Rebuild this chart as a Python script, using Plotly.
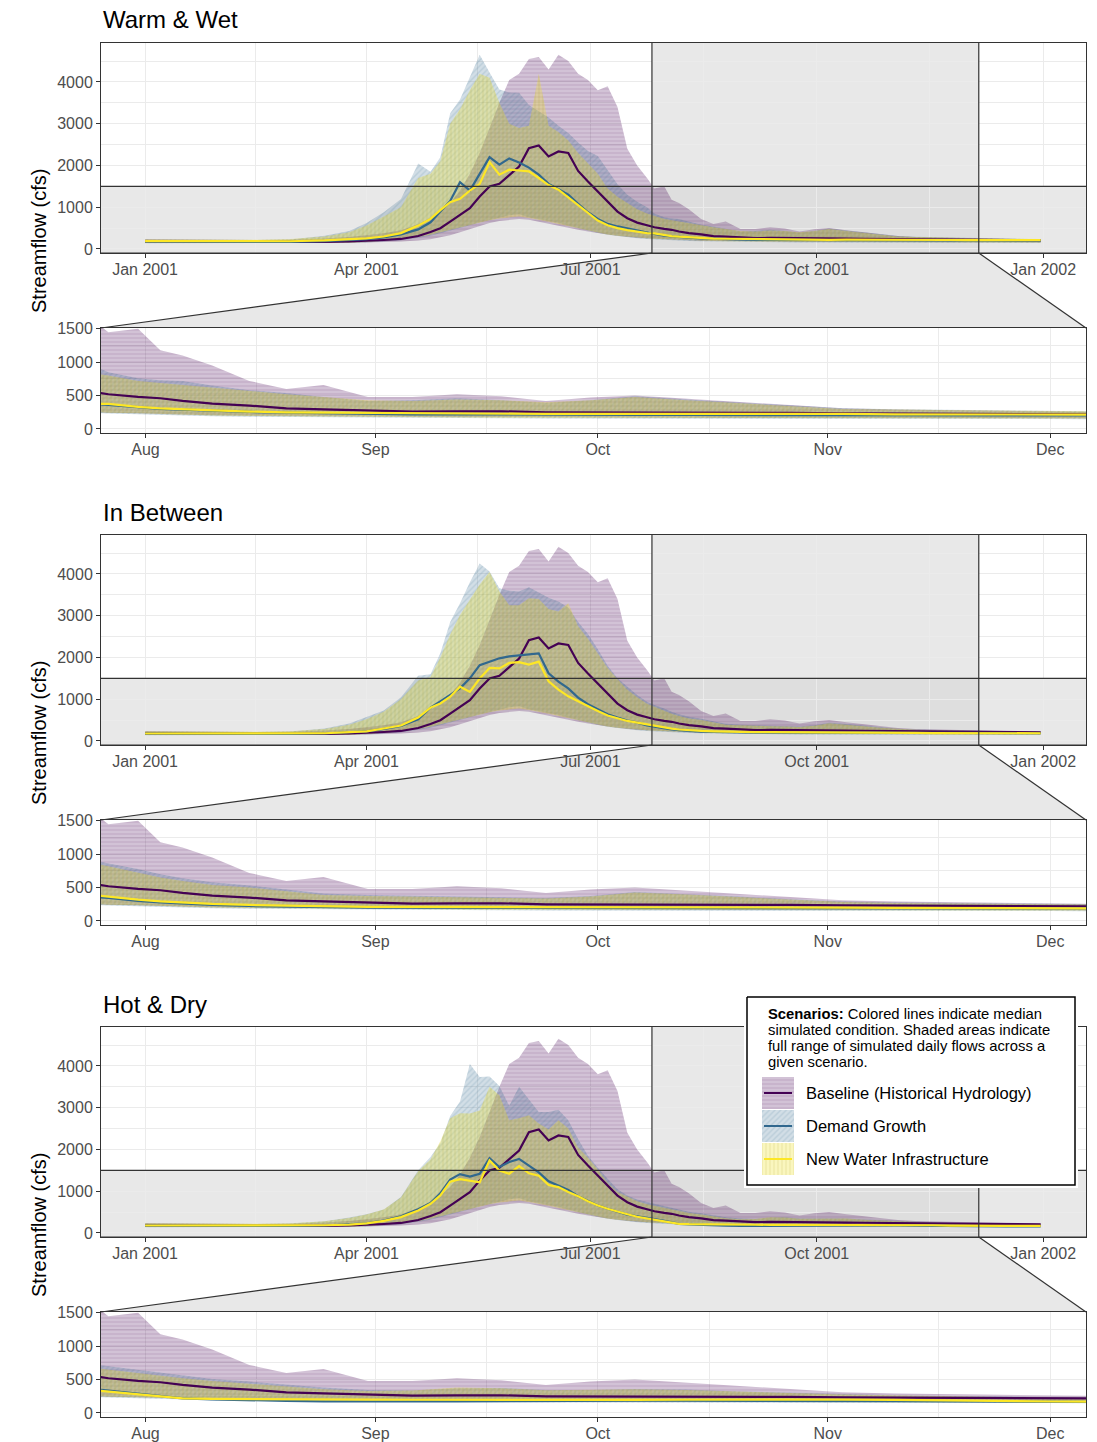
import pandas as pd
import plotly.graph_objects as go

# ---------------- data ----------------
dates = ["2001-01-01", "2001-01-15", "2001-02-01", "2001-02-15", "2001-03-01", "2001-03-15",
         "2001-03-25", "2001-04-01", "2001-04-08", "2001-04-15", "2001-04-22", "2001-04-27",
         "2001-05-01", "2001-05-05", "2001-05-09", "2001-05-13", "2001-05-17", "2001-05-21",
         "2001-05-25", "2001-05-29", "2001-06-02", "2001-06-06", "2001-06-10", "2001-06-14",
         "2001-06-18", "2001-06-22", "2001-06-26", "2001-06-30", "2001-07-04", "2001-07-08",
         "2001-07-12", "2001-07-16", "2001-07-20", "2001-07-24", "2001-07-27", "2001-07-31",
         "2001-08-03", "2001-08-06", "2001-08-10", "2001-08-15", "2001-08-20", "2001-08-25",
         "2001-08-31", "2001-09-06", "2001-09-12", "2001-09-18", "2001-09-24", "2001-09-30",
         "2001-10-06", "2001-10-13", "2001-10-20", "2001-10-27", "2001-11-03", "2001-11-10",
         "2001-11-17", "2001-11-24", "2001-12-01", "2001-12-08", "2001-12-17", "2001-12-31"]

# Baseline (historical hydrology) - identical in every climate panel
baseline_min = [150, 148, 145, 142, 140, 142, 148, 155, 165, 180, 205, 235, 280, 330, 400, 470, 550, 620, 670, 700,
                720, 700, 650, 600, 560, 510, 460, 420, 380, 350, 320, 290, 270, 255, 245, 235, 225, 215, 205, 200,
                195, 190, 185, 180, 178, 178, 175, 175, 172, 172, 170, 170, 168, 168, 165, 165, 162, 160, 160, 158]
baseline_med = [180, 175, 170, 165, 165, 170, 180, 190, 215, 240, 312, 408, 496, 656, 816, 976, 1256, 1496, 1560, 1776,
                1976, 2416, 2480, 2216, 2336, 2300, 1870, 1616, 1376, 1112, 896, 736, 632, 568, 520, 480, 460, 420, 380, 350,
                310, 295, 275, 260, 265, 265, 250, 250, 250, 250, 245, 240, 235, 230, 225, 220, 215, 212, 210, 205]
baseline_max = [240, 230, 220, 215, 220, 250, 290, 330, 380, 450, 600, 750, 900, 1100, 1400, 1800, 2300, 2900, 3500, 4050,
                4200, 4550, 4600, 4300, 4650, 4500, 4200, 4050, 3800, 3900, 3400, 2400, 2000, 1700, 1450, 1500, 1180, 1100, 950, 720,
                600, 660, 480, 480, 520, 490, 420, 470, 500, 450, 400, 360, 310, 290, 280, 270, 260, 240, 240, 230]

# lower envelopes of the two alternative scenarios (look the same in all panels)
demand_min = [140, 138, 135, 132, 132, 135, 142, 155, 175, 210, 270, 320, 380, 440, 510, 570, 640, 690, 750, 810,
              830, 760, 720, 670, 620, 560, 490, 440, 390, 340, 310, 280, 260, 240, 230, 220, 210, 200, 190, 185,
              180, 175, 170, 165, 162, 160, 158, 158, 156, 156, 155, 155, 152, 150, 150, 148, 148, 146, 146, 145]
infra_min = [150, 148, 145, 142, 142, 145, 152, 165, 190, 225, 290, 340, 400, 460, 520, 580, 640, 690, 730, 760,
             780, 740, 700, 650, 600, 550, 485, 440, 395, 350, 320, 295, 275, 255, 245, 235, 222, 212, 202, 195,
             190, 185, 180, 175, 172, 170, 168, 168, 166, 165, 165, 164, 162, 160, 160, 158, 157, 156, 155, 155]

# Warm & Wet
ww_demand_med = [175, 172, 170, 168, 170, 185, 210, 235, 280, 350, 470, 640, 900, 1150, 1600, 1400, 1800, 2200, 2020, 2170,
                 2070, 1950, 1780, 1560, 1430, 1300, 1080, 880, 720, 600, 540, 490, 430, 380, 360, 320, 300, 290, 270, 255,
                 245, 235, 225, 220, 220, 215, 215, 210, 210, 210, 210, 210, 210, 205, 205, 200, 200, 200, 200, 200]
ww_demand_max = [230, 225, 220, 215, 230, 320, 430, 620, 880, 1200, 2050, 1850, 2200, 3250, 3580, 4100, 4650, 4230, 3820, 3750,
                 3740, 3450, 3300, 3150, 2950, 2780, 2550, 2350, 2230, 1900, 1550, 1300, 1130, 1000, 850, 760, 730, 720, 650, 580,
                 540, 480, 420, 430, 460, 430, 390, 430, 490, 440, 400, 360, 310, 295, 285, 275, 260, 250, 245, 235]
ww_infra_med = [190, 185, 180, 178, 185, 205, 230, 255, 300, 380, 560, 720, 930, 1120, 1200, 1400, 1560, 2080, 1780, 1900,
                1880, 1860, 1700, 1530, 1420, 1230, 1050, 850, 680, 570, 500, 450, 410, 380, 375, 330, 310, 295, 280, 260,
                250, 245, 240, 235, 230, 230, 225, 225, 220, 225, 225, 230, 225, 220, 215, 215, 210, 210, 210, 210]
ww_infra_max = [235, 230, 225, 220, 240, 300, 400, 560, 780, 1000, 1700, 1800, 2100, 3000, 3350, 3800, 4200, 4100, 3500, 3000,
                2900, 2950, 4200, 2950, 2800, 2600, 2300, 2050, 1800, 1450, 1250, 1100, 950, 850, 800, 720, 690, 660, 620, 560,
                520, 480, 430, 420, 440, 430, 400, 430, 480, 430, 390, 350, 300, 290, 280, 270, 260, 250, 245, 240]

# In Between
ib_demand_med = [175, 172, 170, 168, 170, 180, 205, 232, 290, 360, 520, 800, 950, 1110, 1260, 1500, 1816, 1900, 1980, 2025,
                 2055, 2080, 2100, 1620, 1420, 1260, 1040, 880, 760, 640, 560, 490, 440, 375, 345, 300, 280, 260, 240, 225,
                 215, 205, 200, 198, 198, 200, 200, 200, 200, 200, 200, 200, 198, 195, 192, 190, 188, 186, 185, 185]
ib_demand_max = [225, 220, 215, 215, 225, 300, 420, 570, 730, 1050, 1560, 1600, 2100, 2850, 3300, 3800, 4250, 4060, 3660, 3600,
                 3580, 3680, 3550, 3430, 3340, 3200, 2850, 2560, 2200, 1800, 1500, 1300, 1100, 940, 860, 780, 700, 640, 580, 530,
                 470, 410, 390, 375, 365, 355, 345, 375, 435, 405, 365, 325, 292, 277, 267, 257, 247, 240, 235, 230]
ib_infra_med = [180, 178, 175, 172, 175, 185, 210, 232, 300, 370, 560, 800, 900, 1060, 1300, 1176, 1496, 1750, 1740, 1870,
                1890, 1830, 1900, 1430, 1230, 1070, 950, 830, 720, 610, 540, 480, 440, 395, 360, 320, 295, 275, 255, 240,
                230, 220, 212, 210, 210, 210, 210, 210, 210, 210, 208, 205, 200, 195, 190, 188, 186, 185, 185, 185]
ib_infra_max = [235, 230, 225, 220, 235, 290, 390, 520, 700, 1000, 1450, 1530, 2000, 2550, 3020, 3400, 3750, 4050, 3580, 3250,
                3250, 3420, 3400, 3160, 3100, 3300, 2750, 2450, 2100, 1750, 1480, 1230, 1050, 890, 820, 720, 650, 600, 540, 500,
                440, 390, 375, 360, 355, 345, 335, 365, 425, 395, 355, 315, 285, 270, 260, 250, 240, 235, 230, 225]

# Hot & Dry
hd_demand_med = [175, 172, 170, 168, 170, 180, 200, 232, 300, 400, 570, 720, 950, 1280, 1410, 1350, 1416, 1790, 1580, 1700,
                 1776, 1620, 1450, 1240, 1140, 1030, 880, 760, 660, 580, 510, 440, 400, 370, 335, 290, 250, 220, 205, 190,
                 180, 175, 170, 172, 175, 180, 182, 185, 185, 185, 185, 185, 182, 178, 172, 168, 165, 162, 160, 160]
hd_demand_max = [225, 220, 215, 215, 225, 280, 370, 450, 560, 860, 1500, 1820, 2150, 2800, 3150, 4050, 3736, 3750, 3520, 3050,
                 3500, 3200, 2900, 2900, 2950, 2700, 2250, 1850, 1560, 1300, 1050, 900, 800, 740, 700, 650, 600, 560, 510, 470,
                 420, 380, 345, 335, 370, 375, 345, 345, 360, 350, 322, 302, 282, 266, 255, 242, 232, 226, 222, 216]
hd_infra_med = [180, 178, 175, 172, 175, 185, 200, 232, 290, 380, 540, 700, 900, 1230, 1290, 1256, 1216, 1736, 1496, 1420,
                1600, 1430, 1370, 1150, 1100, 980, 880, 760, 660, 580, 510, 450, 390, 350, 320, 275, 245, 220, 210, 205,
                200, 200, 200, 198, 196, 195, 195, 195, 196, 198, 200, 200, 200, 195, 185, 178, 172, 170, 170, 170]
hd_infra_max = [235, 230, 225, 220, 235, 280, 360, 440, 560, 850, 1480, 1760, 2200, 2750, 2870, 2860, 2936, 3500, 3300, 2700,
                2750, 2820, 2620, 2480, 2700, 2500, 2050, 1800, 1520, 1200, 980, 860, 760, 690, 650, 600, 560, 520, 480, 440,
                395, 355, 330, 335, 380, 370, 340, 345, 355, 345, 318, 298, 278, 262, 250, 238, 228, 222, 218, 212]

panel_titles = ["Warm & Wet", "In Between", "Hot & Dry"]
scenario_names = ["Baseline (Historical Hydrology)", "Demand Growth", "New Water Infrastructure"]
main_tickvals = ["2001-01-01", "2001-04-01", "2001-07-01", "2001-10-01", "2002-01-01"]
main_ticktext = ["Jan 2001", "Apr 2001", "Jul 2001", "Oct 2001", "Jan 2002"]
main_minor = ["2000-11-16", "2001-02-15", "2001-05-16", "2001-08-16", "2001-11-16", "2002-02-15"]
zoom_tickvals = ["2001-08-01", "2001-09-01", "2001-10-01", "2001-11-01", "2001-12-01"]
zoom_ticktext = ["Aug", "Sep", "Oct", "Nov", "Dec"]
zoom_minor = ["2001-07-16", "2001-08-16", "2001-09-16", "2001-10-16", "2001-11-16"]
main_ytick = [0, 1000, 2000, 3000, 4000]
main_yminor = [500, 1500, 2500, 3500, 4500]
zoom_ytick = [0, 500, 1000, 1500]
zoom_yminor = [250, 750, 1250]

panels = [
    dict(demand=(demand_min, ww_demand_med, ww_demand_max), infra=(infra_min, ww_infra_med, ww_infra_max)),
    dict(demand=(demand_min, ib_demand_med, ib_demand_max), infra=(infra_min, ib_infra_med, ib_infra_max)),
    dict(demand=(demand_min, hd_demand_med, hd_demand_max), infra=(infra_min, hd_infra_med, hd_infra_max)),
]
baseline = (baseline_min, baseline_med, baseline_max)

# ---------------- styling ----------------
W, H = 1097, 1442
FONT = "Liberation Sans, Arial, sans-serif"
C_BASE, C_DEM, C_INF = "#440154", "#31688E", "#FDE725"
FILL = {
    "base": dict(bg="rgba(68,1,84,0.24)", fg="rgba(68,1,84,0.22)", shape="-"),
    "dem": dict(bg="rgba(49,104,142,0.22)", fg="rgba(49,104,142,0.30)", shape="/"),
    "inf": dict(bg="rgba(240,225,40,0.30)", fg="rgba(150,140,20,0.25)", shape="|"),
}
GRID = "#ebebeb"
BORDER = "#333333"
TICKC = "#4d4d4d"
BAND = "rgba(215,215,215,0.57)"


def px_x(p):
    return p / W


def px_y(p):
    return 1 - p / H


X0, X1 = 101, 1086
main_tops = [43, 535, 1027]
zoom_tops = [328, 820, 1312]
MAIN_H, ZOOM_H = 210, 105
main_xrange = ["2000-12-14 02:00", "2002-01-18 10:00"]
zoom_xrange = ["2001-07-26 00:00", "2001-12-05 20:00"]
main_yrange = [-96, 4934]
zoom_yrange = [-60, 1512]
ZOOM_YTOP = 1500

fig = go.Figure()


def add_band(xa, ya, lo, hi, key, dt):
    f = FILL[key]
    fig.add_trace(go.Scatter(x=dt, y=lo, mode="lines", line=dict(width=0), xaxis=xa, yaxis=ya,
                             showlegend=False, hoverinfo="skip"))
    fig.add_trace(go.Scatter(x=dt, y=hi, mode="lines", line=dict(width=0), fill="tonexty",
                             fillcolor=f["bg"],
                             fillpattern=dict(shape=f["shape"], bgcolor=f["bg"], fgcolor=f["fg"],
                                              size=4, solidity=0.35),
                             xaxis=xa, yaxis=ya, showlegend=False, hoverinfo="skip"))


def add_line(xa, ya, y, color, dt):
    fig.add_trace(go.Scatter(x=dt, y=y, mode="lines", line=dict(color=color, width=2.2),
                             xaxis=xa, yaxis=ya, showlegend=False, hoverinfo="skip"))


def add_guide(xa, ya, xs, ys):
    # outline of the zoom indicator, drawn over the data of its own panel
    fig.add_trace(go.Scatter(x=xs, y=ys, mode="lines", line=dict(color=BORDER, width=1.2),
                             xaxis=xa, yaxis=ya, showlegend=False, hoverinfo="skip"))


layout_axes = {}
shapes = []
annotations = []


def tfrac(t, rng):
    a, b = pd.Timestamp(rng[0]), pd.Timestamp(rng[1])
    return (pd.Timestamp(t) - a) / (b - a)


for i, p in enumerate(panels):
    for k, (top, hgt, is_zoom) in enumerate([(main_tops[i], MAIN_H, False), (zoom_tops[i], ZOOM_H, True)]):
        n = 2 * i + k + 1
        suf = "" if n == 1 else str(n)
        xa, ya = f"x{suf}", f"y{suf}"
        add_band(xa, ya, baseline[0], baseline[2], "base", dates)
        add_band(xa, ya, p["demand"][0], p["demand"][2], "dem", dates)
        add_band(xa, ya, p["infra"][0], p["infra"][2], "inf", dates)
        add_line(xa, ya, baseline[1], C_BASE, dates)
        add_line(xa, ya, p["demand"][1], C_DEM, dates)
        add_line(xa, ya, p["infra"][1], C_INF, dates)

        common = dict(showline=True, mirror=True, linecolor=BORDER, linewidth=1, ticks="outside",
                      ticklen=4, tickcolor=BORDER, tickwidth=1, showgrid=True, gridcolor=GRID, gridwidth=1.3,
                      zeroline=False, tickfont=dict(family=FONT, size=16, color=TICKC), fixedrange=True,
                      automargin=False)
        layout_axes[f"xaxis{suf}"] = dict(
            domain=[px_x(X0), px_x(X1)], anchor=ya, type="date",
            range=zoom_xrange if is_zoom else main_xrange,
            tickmode="array",
            tickvals=zoom_tickvals if is_zoom else main_tickvals,
            ticktext=zoom_ticktext if is_zoom else main_ticktext,
            ticklabelstandoff=-2,
            minor=dict(tickmode="array", tickvals=zoom_minor if is_zoom else main_minor,
                       showgrid=True, gridcolor=GRID, gridwidth=0.7, ticks=""),
            **common)
        layout_axes[f"yaxis{suf}"] = dict(
            domain=[px_y(top + hgt), px_y(top)], anchor=xa,
            range=zoom_yrange if is_zoom else main_yrange,
            tickmode="array",
            tickvals=zoom_ytick if is_zoom else main_ytick,
            ticktext=[str(v) for v in (zoom_ytick if is_zoom else main_ytick)],
            minor=dict(tickmode="array", tickvals=zoom_yminor if is_zoom else main_yminor,
                       showgrid=True, gridcolor=GRID, gridwidth=0.7, ticks=""),
            **common)

        if not is_zoom:
            # zoom indicator bands on the overview panel: grey fill below the data, outline on top
            shapes.append(dict(type="rect", xref=xa, yref=f"{ya} domain", x0=zoom_xrange[0], x1=zoom_xrange[1],
                               y0=0, y1=1, fillcolor=BAND, line=dict(width=0), layer="below"))
            shapes.append(dict(type="rect", xref=f"{xa} domain", yref=ya, x0=0, x1=1,
                               y0=main_yrange[0], y1=ZOOM_YTOP, fillcolor=BAND, line=dict(width=0),
                               layer="below"))
            add_guide(xa, ya, [zoom_xrange[0], zoom_xrange[0]], main_yrange)
            add_guide(xa, ya, [zoom_xrange[1], zoom_xrange[1]], main_yrange)
            add_guide(xa, ya, main_xrange, [ZOOM_YTOP, ZOOM_YTOP])
            add_guide(xa, ya, main_xrange, [main_yrange[0], main_yrange[0]])

    # connector trapezoid between overview and zoom panel
    dx0, dx1 = px_x(X0), px_x(X1)
    xl = dx0 + tfrac(zoom_xrange[0], main_xrange) * (dx1 - dx0)
    xr = dx0 + tfrac(zoom_xrange[1], main_xrange) * (dx1 - dx0)
    yb = px_y(main_tops[i] + MAIN_H)
    yt = px_y(zoom_tops[i])
    shapes.append(dict(type="path", xref="paper", yref="paper",
                       path=f"M {xl},{yb} L {xr},{yb} L {dx1},{yt} L {dx0},{yt} Z",
                       fillcolor="#e8e8e8", line=dict(width=0), layer="below"))
    shapes.append(dict(type="line", xref="paper", yref="paper", x0=xl, y0=yb, x1=dx0, y1=yt,
                       line=dict(color=BORDER, width=1.2), layer="below"))
    shapes.append(dict(type="line", xref="paper", yref="paper", x0=xr, y0=yb, x1=dx1, y1=yt,
                       line=dict(color=BORDER, width=1.2), layer="below"))

    annotations.append(dict(text=panel_titles[i], xref="paper", yref="paper", x=px_x(X0),
                            y=px_y(main_tops[i] - 23), xanchor="left", yanchor="middle", showarrow=False,
                            font=dict(family=FONT, size=24, color="black")))
    annotations.append(dict(text="Streamflow (cfs)", xref="paper", yref="paper", x=px_x(39),
                            y=px_y(main_tops[i] + 198), xanchor="center", yanchor="middle", showarrow=False,
                            textangle=-90, font=dict(family=FONT, size=20, color="black")))

# ---------------- custom legend (overlay axis in pixel units) ----------------
LX0, LX1, LY0, LY1 = 744, 1078, 994, 1188
layout_axes["xaxis7"] = dict(domain=[px_x(LX0), px_x(LX1)], range=[LX0, LX1], anchor="y7",
                             visible=False, fixedrange=True, automargin=False)
layout_axes["yaxis7"] = dict(domain=[px_y(LY1), px_y(LY0)], range=[LY1, LY0], anchor="x7",
                             visible=False, fixedrange=True, automargin=False)
bx = [747, 1075, 1075, 747, 747]
by = [997, 997, 1185, 1185, 997]
fig.add_trace(go.Scatter(x=bx, y=by, mode="lines", fill="toself", fillcolor="white",
                         line=dict(color="black", width=1.5), xaxis="x7", yaxis="y7",
                         showlegend=False, hoverinfo="skip"))
key_tops = [1077, 1110, 1143]
key_cols = [("base", C_BASE), ("dem", C_DEM), ("inf", C_INF)]
for (key, col), kt, name in zip(key_cols, key_tops, scenario_names):
    f = FILL[key]
    fig.add_trace(go.Scatter(x=[762, 794, 794, 762, 762], y=[kt, kt, kt + 32, kt + 32, kt], mode="lines",
                             fill="toself", fillcolor=f["bg"], line=dict(width=0),
                             fillpattern=dict(shape=f["shape"], bgcolor=f["bg"], fgcolor=f["fg"],
                                              size=4, solidity=0.35),
                             xaxis="x7", yaxis="y7", showlegend=False, hoverinfo="skip"))
    fig.add_trace(go.Scatter(x=[764, 792], y=[kt + 16, kt + 16], mode="lines", line=dict(color=col, width=2),
                             xaxis="x7", yaxis="y7", showlegend=False, hoverinfo="skip"))
    annotations.append(dict(text=name, xref="paper", yref="paper", x=px_x(804), y=px_y(kt + 16),
                            xanchor="left", yanchor="middle", showarrow=False,
                            font=dict(family=FONT, size=16.5, color="black")))

legend_lines = ["<b>Scenarios:</b> Colored lines indicate median",
                "simulated condition. Shaded areas indicate",
                "full range of simulated daily flows across a",
                "given scenario."]
for j, ln in enumerate(legend_lines):
    annotations.append(dict(text=ln, xref="paper", yref="paper", x=px_x(766), y=px_y(1014 + 16 * j),
                            xanchor="left", yanchor="middle", showarrow=False,
                            font=dict(family=FONT, size=14.8, color="black")))

fig.update_layout(
    width=W, height=H, margin=dict(l=0, r=0, t=0, b=0, autoexpand=False),
    paper_bgcolor="white", plot_bgcolor="white", showlegend=False,
    shapes=shapes, annotations=annotations, **layout_axes,
)

fig.write_html("out.html", config={"displayModeBar": False})
# remove the browser's default page margin so the figure fills the window exactly
with open("out.html", "r", encoding="utf-8") as fh:
    html = fh.read()
html = html.replace("<head>", "<head><style>html,body{margin:0;padding:0;overflow:hidden;}</style>", 1)
with open("out.html", "w", encoding="utf-8") as fh:
    fh.write(html)
